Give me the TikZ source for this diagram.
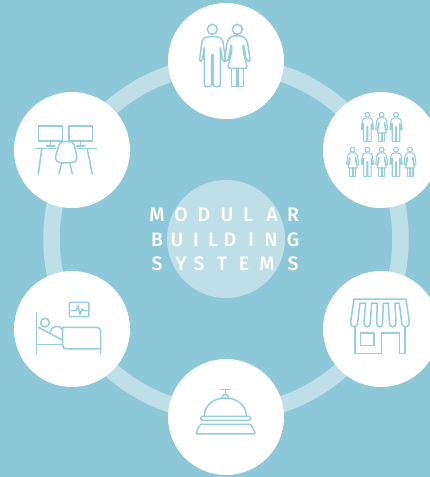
\documentclass[tikz,border=0pt]{standalone}
\usepackage{fontspec}
\setmainfont{Fira Sans}
\newfontfamily\ltrfont{Fira Sans Medium}
\definecolor{bgblue}{HTML}{8CC8D8}
\definecolor{ringblue}{HTML}{BFDFE8}
\definecolor{iconblue}{HTML}{96CEDC}
\tikzset{
  hub/.style={circle,fill=white,draw=none,minimum size=116pt,inner sep=0pt},
  core/.style={circle,fill=ringblue,draw=none,minimum size=118pt,inner sep=0pt},
  ltr/.style={text=white,font=\ltrfont\fontsize{19.5}{20}\selectfont,inner sep=0pt,anchor=center},
  icon/.style={draw=iconblue,line width=1.5pt,line join=round,line cap=round,fill=none},
  iconsmall/.style={draw=iconblue,line width=1.1pt,line join=round,line cap=round,fill=none},
}
\newcommand{\manicon}[2]{%
  \draw[#1] (157,88) circle (15);
  \draw[#1,rounded corners=#2] (133,260) -- (133,140) -- (127,184) -- (118,184) -- (127,118) -- (140,110) -- (175,110) -- (188,118) -- (197,184) -- (188,184) -- (181,140) -- (181,260) -- (160,260) -- (160,165) -- (155,165) -- (155,260) -- cycle;
}
\newcommand{\womanicon}[2]{%
  \draw[#1] (232,88) circle (15);
  \draw[#1,rounded corners=#2] (216,150) -- (203,205) -- (262,205) -- (249,150) -- (250,132) -- (260,184) -- (271,184) -- (262,122) -- (248,108) -- (216,108) -- (202,122) -- (193,184) -- (204,184) -- (214,132) -- cycle;
  \draw[#1] (214,205) -- (214,260) -- (231,260) -- (231,205);
  \draw[#1] (234,205) -- (234,260) -- (251,260) -- (251,205);
}
\begin{document}
\begin{tikzpicture}[x=1pt,y=-1pt]
\useasboundingbox (0,0) rectangle (430,477);
\clip (0,0) rectangle (430,477);
\fill[bgblue] (0,0) rectangle (430,477);
\coordinate (centre) at (226,239);
\draw[ringblue,line width=16.5pt] (centre) circle (174.5);
\node[core] (mid) at (centre) {};
\node[hub] (top) at (226,61) {};
\node[hub] (rtop) at (381,150) {};
\node[hub] (ltop) at (72,150) {};
\node[hub] (lbot) at (72,329) {};
\node[hub] (bot) at (226,417) {};
\node[hub] (rbot) at (381,329) {};
% letters
\foreach \c/\x [count=\i] in {M/157,O/181,D/204,U/227,L/248,A/272,R/293}
  \node[ltr] (a\i) at (\x,215) {\c};
\foreach \c/\x [count=\i] in {B/157,U/177,I/196,L/213,D/230,I/251,N/271,G/293}
  \node[ltr] (b\i) at (\x,239.5) {\c};
\foreach \c/\x [count=\i] in {S/157,Y/181,S/199,T/222,E/244,M/267,S/293}
  \node[ltr] (c\i) at (\x,264) {\c};
% couple
\begin{scope}[shift={(160,0)},x=.3333pt,y=-.3333pt]
  \manicon{icon}{2pt}
  \womanicon{icon}{2pt}
\end{scope}
% crowd
\foreach \zx/\zy in {142/67,228/67,142/172,228/172}
  \begin{scope}[shift={(320+\zx/3,90+\zy/3)},x=.1567pt,y=-.1567pt,shift={(-157,-73)}]
    \manicon{iconsmall}{.7pt}
  \end{scope};
\foreach \zx/\zy in {185/67,98/172,185/172,270/172}
  \begin{scope}[shift={(320+\zx/3,90+\zy/3)},x=.1567pt,y=-.1567pt,shift={(-232,-73)}]
    \womanicon{iconsmall}{.7pt}
  \end{scope};
% desks
\begin{scope}[shift={(10,90)},x=.3333pt,y=-.3333pt]
  \draw[icon] (85,108) rectangle (158,153);
  \draw[icon] (177,108) rectangle (248,153);
  \draw[icon] (122,153) -- (122,168) (110,168) -- (135,168);
  \draw[icon] (212,153) -- (212,168) (200,168) -- (225,168);
  \draw[icon] (75,176) -- (138,176) (203,176) -- (260,176);
  \draw[icon] (95,178) -- (85,252) (232,178) -- (247,252);
  \draw[icon,rounded corners=3.5pt] (150,155) -- (190,155) -- (203,208) -- (190,219) -- (147,219) -- (134,208) -- cycle;
  \draw[icon] (155,220) -- (147,252) (180,220) -- (187,252);
\end{scope}
% bed
\begin{scope}[shift={(10,270)},x=.3333pt,y=-.3333pt]
  \draw[icon,rounded corners=1pt] (178,97) rectangle (237,140);
  \draw[icon] (185,122) -- (199,122) -- (204,107) -- (210,133) -- (216,117) -- (221,122) -- (231,122);
  \draw[icon] (80,128) -- (80,250);
  \draw[icon] (80,224) -- (157,224);
  \draw[icon] (105,158) circle (13);
  \draw[icon] (85,172) -- (157,210);
  \draw[icon] (120,186) .. controls (125,170) and (145,160) .. (158,180);
  \draw[icon] (158,172) -- (260,172) .. controls (268,172) and (272,176) .. (272,184) -- (272,250);
  \draw[icon] (158,172) -- (158,225) .. controls (158,233) and (162,237) .. (170,237) -- (272,237);
\end{scope}
% bell
\begin{scope}[shift={(165,357)},x=.3333pt,y=-.3333pt]
  \draw[icon] (168,98) -- (194,98) (181,98) -- (181,112);
  \draw[icon] (170,124) .. controls (172,108) and (190,108) .. (192,124);
  \draw[icon] (117,178) .. controls (120,140) and (150,123) .. (181,123) .. controls (212,123) and (242,140) .. (245,178);
  \draw[icon,rounded corners=1.5pt] (107,178) rectangle (257,190);
  \draw[icon,rounded corners=1.5pt] (105,202) -- (258,202) -- (272,231) -- (92,231) -- cycle;
\end{scope}
% shop
\begin{scope}[shift={(320,268)},x=.3333pt,y=-.3333pt]
  \draw[icon] (102,93) -- (258,93) -- (268,162) .. controls (268,182) and (245,182) .. (245,162) -- (238,105) -- (225,105) -- (228,162) .. controls (228,182) and (208,182) .. (208,162) -- (205,105) -- (190,105) -- (188,162) .. controls (188,182) and (170,182) .. (170,162) -- (172,105) -- (155,105) -- (151,162) .. controls (151,182) and (132,182) .. (132,162) -- (137,105) -- (120,105) -- (113,162) .. controls (113,182) and (92,182) .. (92,162) -- cycle;
  \draw[icon] (105,178) -- (105,256) -- (185,256) -- (185,195) -- (238,195) -- (238,256) -- (255,256) -- (255,178);
  \draw[icon] (122,195) rectangle (162,232);
\end{scope}
\end{tikzpicture}
\end{document}
